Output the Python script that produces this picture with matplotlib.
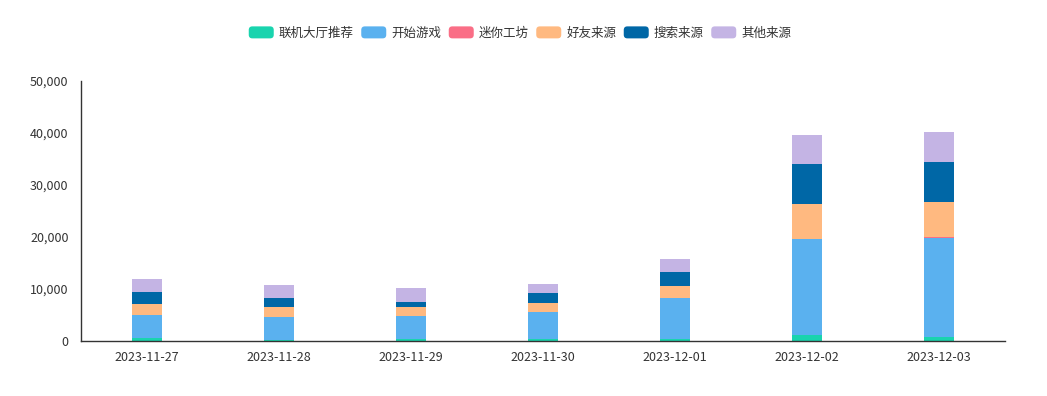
import matplotlib.pyplot as plt
from matplotlib.patches import FancyBboxPatch
from matplotlib.legend_handler import HandlerPatch
from matplotlib.ticker import FuncFormatter
import numpy as np

plt.rcParams['font.family'] = ['Noto Sans CJK SC', 'DejaVu Sans']

dates = ['2023-11-27', '2023-11-28', '2023-11-29', '2023-11-30',
         '2023-12-01', '2023-12-02', '2023-12-03']
names = ['联机大厅推荐', '开始游戏', '迷你工坊', '好友来源', '搜索来源', '其他来源']
colors = ['#19d4ae', '#5ab1ef', '#fa6e86', '#ffb980', '#0067a6', '#c4b4e4']

lobby = [500, 150, 300, 300, 300, 1200, 750]
start_game = [4450, 4450, 4500, 5350, 7900, 18450, 19150]
workshop = [20, 15, 15, 15, 15, 25, 20]
friends = [2170, 1870, 1670, 1670, 2430, 6650, 6730]
search = [2200, 1850, 1020, 1920, 2630, 7640, 7830]
others = [2510, 2380, 2690, 1730, 2500, 5640, 5770]

series = [lobby, start_game, workshop, friends, search, others]


class RoundHandler(HandlerPatch):
    def create_artists(self, legend, orig_handle, xdescent, ydescent,
                       width, height, fontsize, trans):
        p = FancyBboxPatch((-xdescent, -ydescent), width, height,
                           boxstyle='round,pad=0,rounding_size=%f' % (height * 0.3),
                           facecolor=orig_handle.get_facecolor(),
                           edgecolor='none', transform=trans)
        return [p]


fig = plt.figure(figsize=(10.47, 3.96), dpi=100)
ax = fig.add_axes([81 / 1047, 55 / 396, 924 / 1047, 260 / 396])

x = np.arange(len(dates))
bottom = np.zeros(len(dates))
handles = []
for vals, name, c in zip(series, names, colors):
    b = ax.bar(x, vals, width=0.227, bottom=bottom, color=c, label=name)
    bottom += np.array(vals)
    handles.append(b.patches[0])

ax.set_xlim(-0.5, len(dates) - 0.5)
ax.set_ylim(0, 50000)
ax.set_yticks(range(0, 50001, 10000))
ax.yaxis.set_major_formatter(FuncFormatter(lambda v, p: '{:,}'.format(int(v))))
ax.set_xticks(x)
ax.set_xticklabels(dates)
ax.tick_params(axis='both', length=0, labelsize=9, colors='#333333')
ax.tick_params(axis='x', pad=7)
ax.tick_params(axis='y', pad=9)
for s in ['top', 'right']:
    ax.spines[s].set_visible(False)
for s in ['left', 'bottom']:
    ax.spines[s].set_color('#333333')
    ax.spines[s].set_linewidth(1)

fig.legend(handles, names, loc='center', bbox_to_anchor=(520 / 1047, 1 - 33 / 396),
           ncol=6, frameon=False, fontsize=9, labelcolor='#333333',
           handlelength=2.0, handleheight=1.1, handletextpad=0.4,
           columnspacing=0.6, handler_map={plt.Rectangle: RoundHandler()})

fig.savefig('out.png', dpi=100)
